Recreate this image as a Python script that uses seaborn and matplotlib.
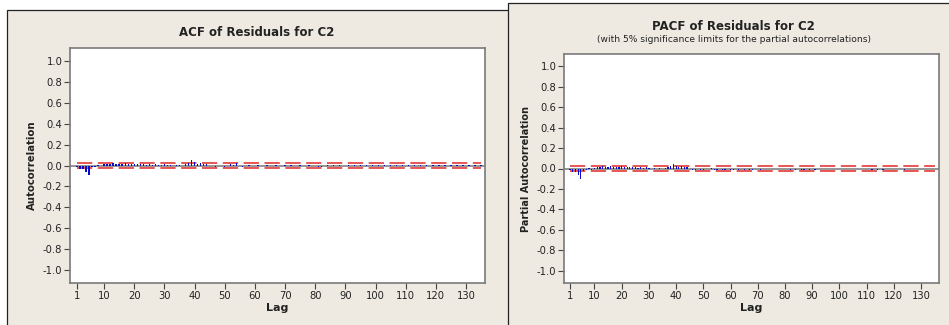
import numpy as np
import pandas as pd
import matplotlib
matplotlib.use("Agg")
import matplotlib.pyplot as plt
from matplotlib.patches import Rectangle
import seaborn as sns

lags = list(range(1, 136))

acf_vals = [
    -0.010, -0.030, -0.030, -0.065, -0.090, -0.015, -0.010, 0.005, -0.008, 0.010,
    0.015, 0.010, 0.020, 0.015, 0.018, 0.012, 0.020, 0.010, 0.015, 0.012,
    0.018, 0.010, 0.012, 0.008, 0.010, 0.006, 0.012, 0.008, 0.006, 0.010,
    0.005, 0.008, -0.004, 0.006, 0.003, -0.005, 0.012, 0.020, 0.055, 0.030,
    0.018, 0.025, 0.012, 0.015, -0.004, -0.008, -0.010, -0.006, -0.008, -0.010,
    -0.006, 0.010, 0.008, 0.020, -0.008, -0.010, -0.006, 0.006, -0.008, -0.005,
    0.004, -0.006, -0.004, 0.008, -0.005, -0.008, 0.003, -0.006, -0.004, 0.005,
    -0.004, 0.003, -0.006, -0.005, 0.004, -0.003, -0.005, 0.006, -0.004, -0.006,
    -0.010, -0.015, -0.008, 0.004, -0.005, 0.003, -0.004, 0.005, -0.003, -0.004,
    0.003, -0.004, 0.004, -0.003, 0.005, -0.004, 0.003, -0.005, 0.004, -0.003,
    0.004, -0.005, 0.003, -0.004, 0.005, -0.003, 0.004, -0.006, 0.003, -0.004,
    0.005, -0.003, 0.004, -0.005, 0.003, -0.004, 0.006, -0.003, 0.004, -0.005,
    0.003, -0.004, 0.005, -0.006, 0.003, -0.004, 0.004, -0.003, 0.005, -0.004,
    0.003, -0.005, 0.004, -0.003, 0.004,
]

pacf_vals = [
    -0.010, -0.030, -0.030, -0.060, -0.100, -0.020, -0.012, 0.004, -0.010, 0.008,
    0.012, 0.010, 0.020, 0.018, 0.015, 0.020, 0.012, 0.018, 0.015, 0.020,
    0.016, 0.012, 0.018, 0.010, 0.014, 0.008, 0.012, 0.006, 0.010, 0.008,
    -0.004, 0.006, -0.006, 0.004, -0.003, 0.008, 0.015, 0.025, 0.040, 0.020,
    0.015, 0.020, 0.010, 0.012, -0.006, -0.010, -0.012, -0.008, -0.010, -0.012,
    -0.008, -0.006, 0.008, -0.010, -0.012, -0.008, -0.010, -0.012, -0.006, -0.010,
    -0.012, -0.008, -0.010, -0.006, -0.012, -0.008, -0.010, -0.012, -0.006, -0.008,
    -0.010, -0.006, -0.004, -0.008, -0.005, -0.004, -0.003, -0.006, -0.004, -0.005,
    -0.008, -0.012, -0.006, -0.010, -0.008, -0.010, -0.012, -0.006, -0.010, -0.008,
    -0.010, -0.006, -0.004, -0.008, -0.003, -0.005, -0.004, -0.003, -0.005, -0.004,
    -0.006, -0.004, -0.003, -0.005, -0.003, -0.004, -0.006, -0.003, -0.004, -0.005,
    -0.008, -0.010, -0.006, -0.010, -0.008, -0.010, -0.006, -0.008, -0.004, -0.005,
    -0.003, -0.004, -0.008, -0.010, -0.006, -0.004, -0.003, -0.005, -0.004, -0.003,
    -0.008, -0.006, -0.004, -0.005, -0.003,
]

sig_limit = 0.021
x_ticks = [1, 10, 20, 30, 40, 50, 60, 70, 80, 90, 100, 110, 120, 130]
y_ticks = [-1.0, -0.8, -0.6, -0.4, -0.2, 0.0, 0.2, 0.4, 0.6, 0.8, 1.0]

acf_title = "ACF of Residuals for C2"
pacf_title = "PACF of Residuals for C2"
pacf_subtitle = "(with 5% significance limits for the partial autocorrelations)"

sns.set_theme(style="white")
plt.rcParams["font.family"] = ["DejaVu Sans"]
plt.rcParams["lines.scale_dashes"] = False

W, H = 949, 325
fig = plt.figure(figsize=(W / 100, H / 100), dpi=100, facecolor="white")

panel_bg = "#EEEAE1"

def px_rect(x0, y0, x1, y1):
    return [x0 / W, 1 - y1 / H, (x1 - x0) / W, (y1 - y0) / H]

# panels
l, b, w, h = px_rect(7, 10, 516, 340)
fig.patches.append(Rectangle((l, b), w, h, transform=fig.transFigure,
                             facecolor=panel_bg, edgecolor="#222222", linewidth=0.9, zorder=-3))
l, b, w, h = px_rect(508, 3, 960, 340)
fig.patches.append(Rectangle((l, b), w, h, transform=fig.transFigure,
                             facecolor=panel_bg, edgecolor="#222222", linewidth=0.9, zorder=-2))

ax1 = fig.add_axes(px_rect(70, 48, 485, 283))
ax2 = fig.add_axes(px_rect(564, 54, 939, 283))
ax1.set_zorder(1)
ax2.set_zorder(1)

def draw(ax, vals, ylabel, xlim, ylabel_size):
    df = pd.DataFrame({"lag": lags, "val": vals})
    ax.set_facecolor("white")
    ax.axhline(0, color="#8C8C8C", linewidth=1.3, zorder=1)
    lim_df = pd.DataFrame({"lag": lags, "up": [sig_limit] * len(lags), "lo": [-sig_limit] * len(lags)})
    ax.plot(lim_df["lag"], lim_df["up"], color="#E02828", linewidth=1.1,
            linestyle=(0, (11, 4)), zorder=2)
    ax.plot(lim_df["lag"], lim_df["lo"], color="#E02828", linewidth=1.1,
            linestyle=(0, (11, 4)), zorder=2)
    sns.barplot(data=df, x="lag", y="val", native_scale=True, width=0.45,
                color="#0A0ACC", saturation=1, linewidth=0, ax=ax, zorder=3)
    ax.set_xlim(*xlim)
    ax.set_ylim(-1.12, 1.12)
    ax.set_xticks(x_ticks)
    ax.set_xticklabels([str(t) for t in x_ticks])
    ax.set_yticks(y_ticks)
    ax.set_yticklabels([f"{t:.1f}" for t in y_ticks])
    ax.tick_params(axis="both", which="both", direction="out", length=4, width=0.8,
                   color="#444444", labelsize=7.2, labelcolor="#222222", pad=1.5,
                   bottom=True, left=True)
    for s in ax.spines.values():
        s.set_color("#7A7A7A")
        s.set_linewidth(1.2)
    ax.set_xlabel("Lag", fontsize=8, fontweight="bold", color="#222222", labelpad=2)
    ax.set_ylabel(ylabel, fontsize=ylabel_size, fontweight="bold", color="#222222", labelpad=4)

draw(ax1, acf_vals, "Autocorrelation", (-1.3, 136.3), 7.3)
draw(ax2, pacf_vals, "Partial Autocorrelation", (-1.2, 136.6), 7.0)

fig.text(257 / W, 1 - 33 / H, acf_title, ha="center", va="center",
         fontsize=8.5, fontweight="bold", color="#222222")
fig.text(733 / W, 1 - 26 / H, pacf_title, ha="center", va="center",
         fontsize=8.5, fontweight="bold", color="#222222")
fig.text(734 / W, 1 - 40 / H, pacf_subtitle, ha="center", va="center",
         fontsize=6.6, color="#222222")

fig.savefig("out.png", dpi=100, facecolor="white")
